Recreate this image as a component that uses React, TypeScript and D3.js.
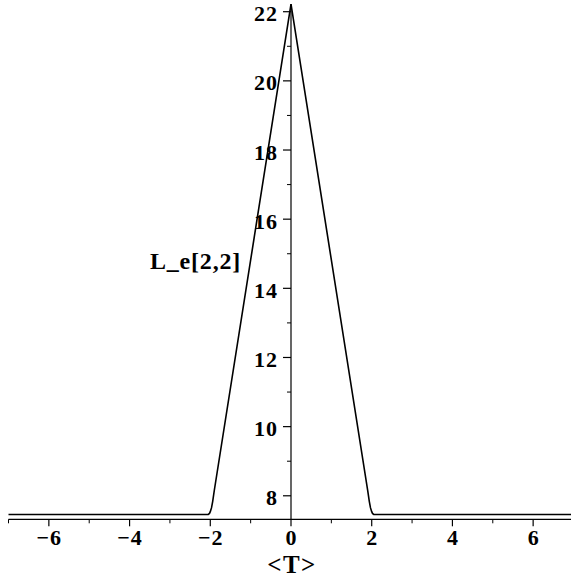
import React from "react";
import * as d3 from "d3";

// Sampled curve of L_e[2,2] against <T>
const tValues = [-7, -2.05, -2.02, -2.0, -1.97, -1.94, -1.9, 0, 1.9, 1.94, 1.97, 2.0, 2.02, 2.05, 7];
const leValues = [7.46, 7.46, 7.49, 7.54, 7.65, 7.84, 8.16, 22.22, 8.16, 7.84, 7.65, 7.54, 7.49, 7.46, 7.46];

const xMajorTicks = [-6, -4, -2, 0, 2, 4, 6];
const xMinorTicks = [-7, -5, -3, -1, 1, 3, 5, 7];
const yMajorTicks = [8, 10, 12, 14, 16, 18, 20, 22];
const yMinorTicks = [9, 11, 13, 15, 17, 19, 21];

const xLabel = "<T>";
const yLabel = "L_e[2,2]";

const W = 571;
const H = 581;
const FONT = "'Liberation Serif', 'Times New Roman', serif";

export default function App() {
  const x = d3.scaleLinear().domain([-7, 7]).range([8.5, 573.5]);
  const y = d3.scaleLinear().domain([7.32, 22.22]).range([519.3, 4.1]);
  const fmt = d3.format("d");

  const pts: [number, number][] = tValues.map((t, i) => [t, leValues[i]]);
  const line = d3
    .line<[number, number]>()
    .x((d) => x(d[0]))
    .y((d) => y(d[1]));

  const x0 = x(0);
  const yAxis = y(7.32);

  return (
    <svg
      width={W}
      height={H}
      style={{ position: "absolute", left: 0, top: 0, background: "#fff" }}
    >
      {/* horizontal axis */}
      <line x1={x(-7)} x2={W} y1={yAxis} y2={yAxis} stroke="#000" strokeWidth={1.2} />
      {xMajorTicks.map((t) => (
        <g key={"xM" + t}>
          <line x1={x(t)} x2={x(t)} y1={yAxis} y2={yAxis + 7} stroke="#000" strokeWidth={1.2} />
          <text
            x={x(t) + 0.5}
            y={545}
            textAnchor="middle"
            fontFamily={FONT}
            fontWeight="bold"
            fontSize={22}
            letterSpacing={1}
            fill="#000"
          >
            {fmt(t)}
          </text>
        </g>
      ))}
      {xMinorTicks.map((t) => (
        <line key={"xm" + t} x1={x(t)} x2={x(t)} y1={yAxis} y2={yAxis + 4} stroke="#000" strokeWidth={1} />
      ))}

      {/* vertical axis */}
      <line x1={x0} x2={x0} y1={yAxis} y2={y(22.22)} stroke="#000" strokeWidth={1.2} />
      {yMajorTicks.map((v) => (
        <g key={"yM" + v}>
          <line x1={x0 - 8} x2={x0} y1={y(v)} y2={y(v)} stroke="#000" strokeWidth={1.2} />
          <text
            x={x0 - 13}
            y={y(v) + 9.5}
            textAnchor="end"
            fontFamily={FONT}
            fontWeight="bold"
            fontSize={22}
            letterSpacing={1}
            fill="#000"
          >
            {fmt(v)}
          </text>
        </g>
      ))}
      {yMinorTicks.map((v) => (
        <line key={"ym" + v} x1={x0 - 4} x2={x0} y1={y(v)} y2={y(v)} stroke="#000" strokeWidth={1} />
      ))}

      {/* curve */}
      <path d={line(pts) || ""} fill="none" stroke="#000" strokeWidth={1.6} strokeLinejoin="miter" />

      {/* axis titles */}
      <text
        x={150}
        y={268.5}
        fontFamily={FONT}
        fontWeight="bold"
        fontSize={24}
        letterSpacing={0.8}
        fill="#000"
      >
        {yLabel}
      </text>
      <text
        x={x0 + 1}
        y={573}
        textAnchor="middle"
        fontFamily={FONT}
        fontWeight="bold"
        fontSize={25}
        letterSpacing={1.5}
        fill="#000"
      >
        {xLabel}
      </text>
    </svg>
  );
}
